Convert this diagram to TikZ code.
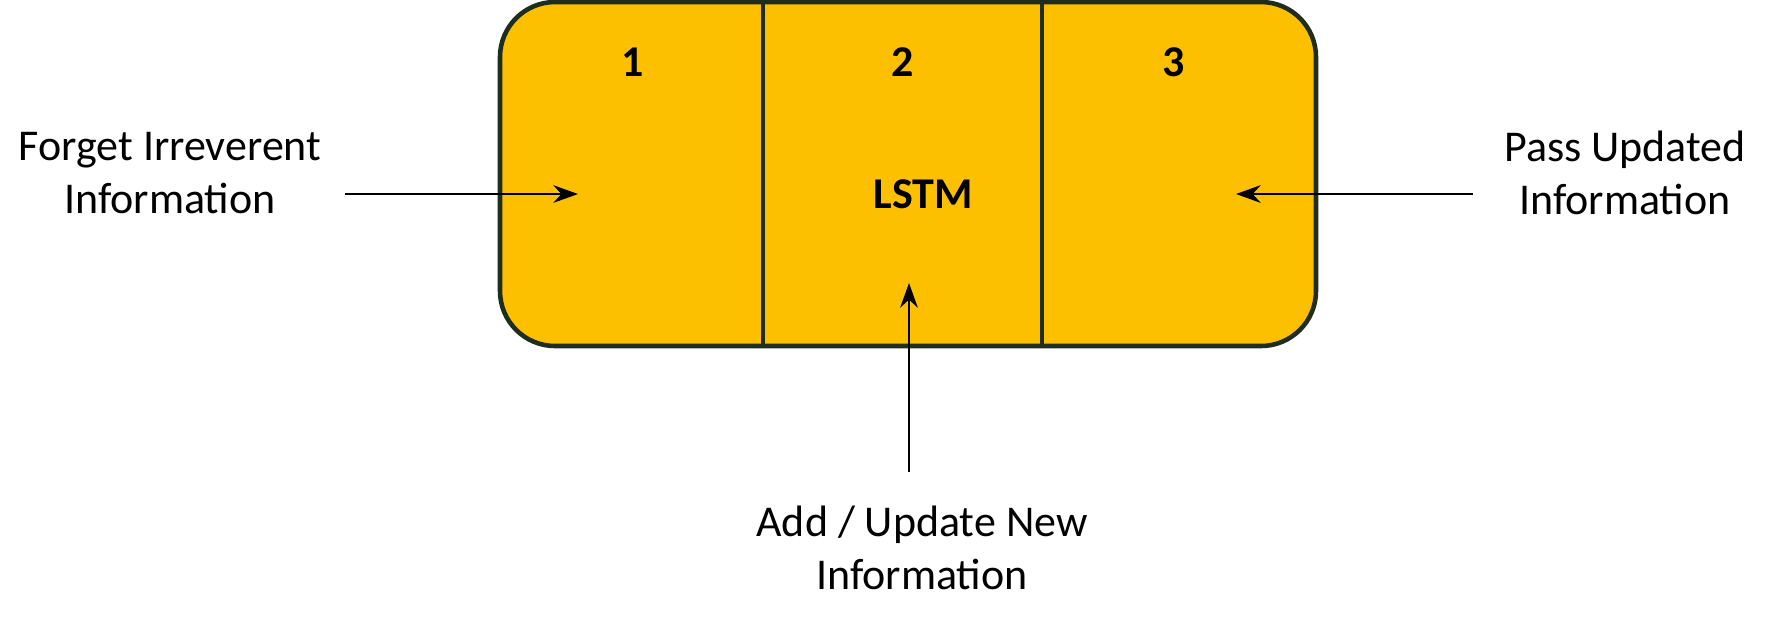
\documentclass[tikz,border=0pt]{standalone}
\usepackage{fontspec}
\setmainfont{Carlito}
\usetikzlibrary{arrows.meta}
\definecolor{cellfill}{RGB}{253,192,0}
\definecolor{cellline}{RGB}{30,45,30}
\tikzset{
  lbl/.style={align=center,font=\fontsize{12.5}{15}\selectfont},
  num/.style={font=\fontsize{12.5}{15}\selectfont\bfseries},
  arr/.style={thick,-{Stealth[length=7pt,width=5pt]}}
}
\begin{document}
\begin{tikzpicture}[x=0.01cm,y=-0.01cm]
\useasboundingbox (0,0) rectangle (1775,623);

% the cell
\draw[line width=1.3pt,draw=cellline,fill=cellfill,rounded corners=0.55cm] (500,2) rectangle (1316,346);
\draw[line width=1.3pt,draw=cellline] (763,2)--(763,346);
\draw[line width=1.3pt,draw=cellline] (1042,2)--(1042,346);

\node[num] (n1) at (633,62) {1};
\node[num] (n2) at (903,62) {2};
\node[num] (n3) at (1174,62) {3};
\node[num] (lstm) at (923,194) {LSTM};

% labels
\node[lbl] (forget) at (170,173) {Forget Irreverent\\Information};
\node[lbl] (pass) at (1625,173) {Pass Updated\\Information};
\node[lbl] (add) at (922,548) {Add / Update New\\Information};

\coordinate (fin) at (578,194);
\coordinate (fout) at (345,194);
\coordinate (pin) at (1236,194);
\coordinate (pout) at (1473,194);
\coordinate (ain) at (909,283);
\coordinate (aout) at (909,472);
\draw[arr] (fout)--(fin);
\draw[arr] (pout)--(pin);
\draw[arr] (aout)--(ain);

\end{tikzpicture}
\end{document}
